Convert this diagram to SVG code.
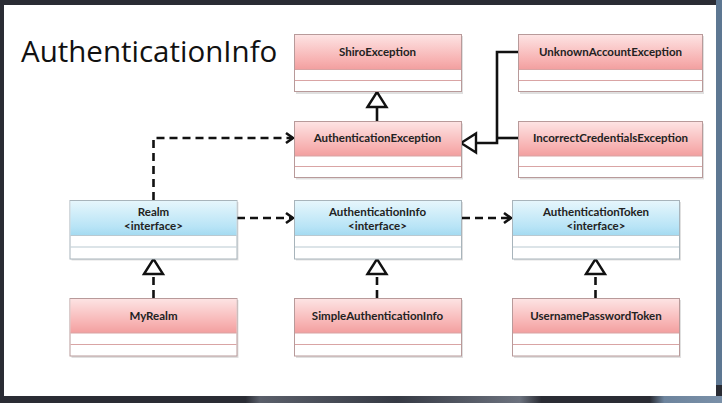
<svg xmlns="http://www.w3.org/2000/svg" width="722" height="403" viewBox="0 0 722 403">
  <style>
    .title { font-family: "Open Sans", "DejaVu Sans", sans-serif; font-size: 29.5px; fill: #111; }
    .lbl { font-family: Lato, "Liberation Sans", sans-serif; font-size: 11.5px; font-weight: bold; fill: #222; text-anchor: middle; }
    .pk .frame { fill: #ffffff; stroke: #b89a9a; stroke-width: 1; }
    .pk .head { fill: url(#gPink); }
    .pk .sep { stroke: #d9a4a4; stroke-width: 1; }
    .bl .frame { fill: #ffffff; stroke: #a8b4bb; stroke-width: 1; }
    .bl .head { fill: url(#gBlue); }
    .bl .sep { stroke: #b9c9d1; stroke-width: 1; }
    .shadow { fill: #000; opacity: 0.12; }
    .solid { fill: none; stroke: #111; stroke-width: 2.6; }
    .dash { fill: none; stroke: #111; stroke-width: 2.6; stroke-dasharray: 8 5; }
  </style>
  <defs>
    <linearGradient id="gPink" x1="0" y1="0" x2="0" y2="1">
      <stop offset="0" stop-color="#fde3e3"/>
      <stop offset="0.75" stop-color="#f7b0b0"/>
      <stop offset="1" stop-color="#f29f9f"/>
    </linearGradient>
    <linearGradient id="gBlue" x1="0" y1="0" x2="0" y2="1">
      <stop offset="0" stop-color="#e6f6fc"/>
      <stop offset="0.75" stop-color="#b8e4f6"/>
      <stop offset="1" stop-color="#a3daf1"/>
    </linearGradient>
    <linearGradient id="gBottom" x1="0" y1="0" x2="1" y2="0">
      <stop offset="0" stop-color="#2a2c34"/>
      <stop offset="0.34" stop-color="#2a2c34"/>
      <stop offset="0.36" stop-color="#5a5f6a"/>
      <stop offset="0.55" stop-color="#363a44"/>
      <stop offset="0.72" stop-color="#6c727e"/>
      <stop offset="0.75" stop-color="#2a2c34"/>
      <stop offset="0.9" stop-color="#2a2c34"/>
      <stop offset="0.92" stop-color="#6d849d"/>
      <stop offset="1" stop-color="#7a90a8"/>
    </linearGradient>
    <marker id="tri" markerUnits="userSpaceOnUse" markerWidth="20" markerHeight="24" refX="15" refY="0" orient="auto" overflow="visible">
      <path d="M0,-9.5 L15,0 L0,9.5 Z" fill="#fff" stroke="#111" stroke-width="2.4" stroke-linejoin="miter"/>
    </marker>
    <marker id="open" markerUnits="userSpaceOnUse" markerWidth="12" markerHeight="14" refX="7" refY="0" orient="auto" overflow="visible">
      <path d="M0,-5 L7,0 L0,5" fill="none" stroke="#111" stroke-width="2.6"/>
    </marker>
  </defs>

  <!-- frame -->
  <rect x="0" y="0" width="722" height="403" fill="#2a2c34"/>
  <rect x="716" y="0" width="6" height="385" fill="#5d7792"/>
  <rect x="0" y="396" width="722" height="7" fill="url(#gBottom)"/>
  <rect x="4" y="5" width="712" height="391" fill="#ffffff"/>

  <text class="title" x="21" y="61.5">AuthenticationInfo</text>

  <!-- connectors -->
  <g id="connectors">
    <path class="solid" d="M377,121.5 L377,92" marker-end="url(#tri)"/>
    <path class="solid" d="M518,52 L497,52 L497,143 L461,143" marker-end="url(#tri)"/>
    <path class="solid" d="M518,138 L497,138"/>
    <path class="dash" d="M153.5,200 L153.5,138 L293,138" marker-end="url(#open)"/>
    <path class="dash" d="M237,218 L293,218" marker-end="url(#open)"/>
    <path class="dash" d="M462,218 L511,218" marker-end="url(#open)"/>
    <path class="dash" d="M153.5,298 L153.5,259" marker-end="url(#tri)"/>
    <path class="dash" d="M377,298 L377,259" marker-end="url(#tri)"/>
    <path class="dash" d="M595.5,298 L595.5,259" marker-end="url(#tri)"/>
  </g>

  <!-- nodes -->
  <g id="ShiroException" class="pk">
    <rect class="shadow" x="296" y="36" width="167" height="58"/>
    <rect class="frame" x="294.5" y="34.5" width="167" height="57"/>
    <rect class="head" x="295" y="35" width="166" height="34.5"/>
    <line class="sep" x1="295" y1="69.5" x2="461" y2="69.5"/>
    <line class="sep" x1="295" y1="80.5" x2="461" y2="80.5"/>
    <text class="lbl" x="377.5" y="55.8">ShiroException</text>
  </g>

  <g id="UnknownAccountException" class="pk">
    <rect class="shadow" x="520" y="36" width="184" height="58"/>
    <rect class="frame" x="518.5" y="34.5" width="184" height="57"/>
    <rect class="head" x="519" y="35" width="183" height="34.5"/>
    <line class="sep" x1="519" y1="69.5" x2="702" y2="69.5"/>
    <line class="sep" x1="519" y1="80.5" x2="702" y2="80.5"/>
    <text class="lbl" x="610.5" y="55.8">UnknownAccountException</text>
  </g>

  <g id="AuthenticationException" class="pk">
    <rect class="shadow" x="296" y="123.5" width="167" height="56"/>
    <rect class="frame" x="294.5" y="121.5" width="167" height="56"/>
    <rect class="head" x="295" y="122" width="166" height="34"/>
    <line class="sep" x1="295" y1="156" x2="461" y2="156"/>
    <line class="sep" x1="295" y1="166.5" x2="461" y2="166.5"/>
    <text class="lbl" x="377.5" y="141.8">AuthenticationException</text>
  </g>

  <g id="IncorrectCredentialsException" class="pk">
    <rect class="shadow" x="520" y="123.5" width="184" height="56"/>
    <rect class="frame" x="518.5" y="121.5" width="184" height="56"/>
    <rect class="head" x="519" y="122" width="183" height="34"/>
    <line class="sep" x1="519" y1="156" x2="702" y2="156"/>
    <line class="sep" x1="519" y1="166.5" x2="702" y2="166.5"/>
    <text class="lbl" x="610.5" y="141.8">IncorrectCredentialsException</text>
  </g>

  <g id="Realm" class="bl">
    <rect class="shadow" x="71.5" y="202" width="167" height="58.5"/>
    <rect class="frame" x="70" y="200.5" width="167" height="58.5"/>
    <rect class="head" x="70.5" y="201" width="166" height="34.5"/>
    <line class="sep" x1="70.5" y1="235.5" x2="236.5" y2="235.5"/>
    <line class="sep" x1="70.5" y1="247" x2="236.5" y2="247"/>
    <text class="lbl" x="153.5" y="215.5">Realm</text>
    <text class="lbl" x="153.5" y="230">&lt;interface&gt;</text>
  </g>

  <g id="AuthenticationInfo" class="bl">
    <rect class="shadow" x="296" y="202" width="167" height="58.5"/>
    <rect class="frame" x="294.5" y="200.5" width="167" height="58.5"/>
    <rect class="head" x="295" y="201" width="166" height="34.5"/>
    <line class="sep" x1="295" y1="235.5" x2="461" y2="235.5"/>
    <line class="sep" x1="295" y1="247" x2="461" y2="247"/>
    <text class="lbl" x="377.5" y="215.5">AuthenticationInfo</text>
    <text class="lbl" x="377.5" y="230">&lt;interface&gt;</text>
  </g>

  <g id="AuthenticationToken" class="bl">
    <rect class="shadow" x="514" y="202" width="167" height="58.5"/>
    <rect class="frame" x="512.5" y="200.5" width="167" height="58.5"/>
    <rect class="head" x="513" y="201" width="166" height="34.5"/>
    <line class="sep" x1="513" y1="235.5" x2="679" y2="235.5"/>
    <line class="sep" x1="513" y1="247" x2="679" y2="247"/>
    <text class="lbl" x="596" y="215.5">AuthenticationToken</text>
    <text class="lbl" x="596" y="230">&lt;interface&gt;</text>
  </g>

  <g id="MyRealm" class="pk">
    <rect class="shadow" x="71.5" y="300" width="167" height="58"/>
    <rect class="frame" x="70" y="298.5" width="167" height="57.5"/>
    <rect class="head" x="70.5" y="299" width="166" height="34"/>
    <line class="sep" x1="70.5" y1="333" x2="236.5" y2="333"/>
    <line class="sep" x1="70.5" y1="344.5" x2="236.5" y2="344.5"/>
    <text class="lbl" x="153.5" y="320">MyRealm</text>
  </g>

  <g id="SimpleAuthenticationInfo" class="pk">
    <rect class="shadow" x="296" y="300" width="167" height="58"/>
    <rect class="frame" x="294.5" y="298.5" width="167" height="57.5"/>
    <rect class="head" x="295" y="299" width="166" height="34"/>
    <line class="sep" x1="295" y1="333" x2="461" y2="333"/>
    <line class="sep" x1="295" y1="344.5" x2="461" y2="344.5"/>
    <text class="lbl" x="377.5" y="320">SimpleAuthenticationInfo</text>
  </g>

  <g id="UsernamePasswordToken" class="pk">
    <rect class="shadow" x="514" y="300" width="167" height="58"/>
    <rect class="frame" x="512.5" y="298.5" width="167" height="57.5"/>
    <rect class="head" x="513" y="299" width="166" height="34"/>
    <line class="sep" x1="513" y1="333" x2="679" y2="333"/>
    <line class="sep" x1="513" y1="344.5" x2="679" y2="344.5"/>
    <text class="lbl" x="596" y="320">UsernamePasswordToken</text>
  </g>
</svg>
